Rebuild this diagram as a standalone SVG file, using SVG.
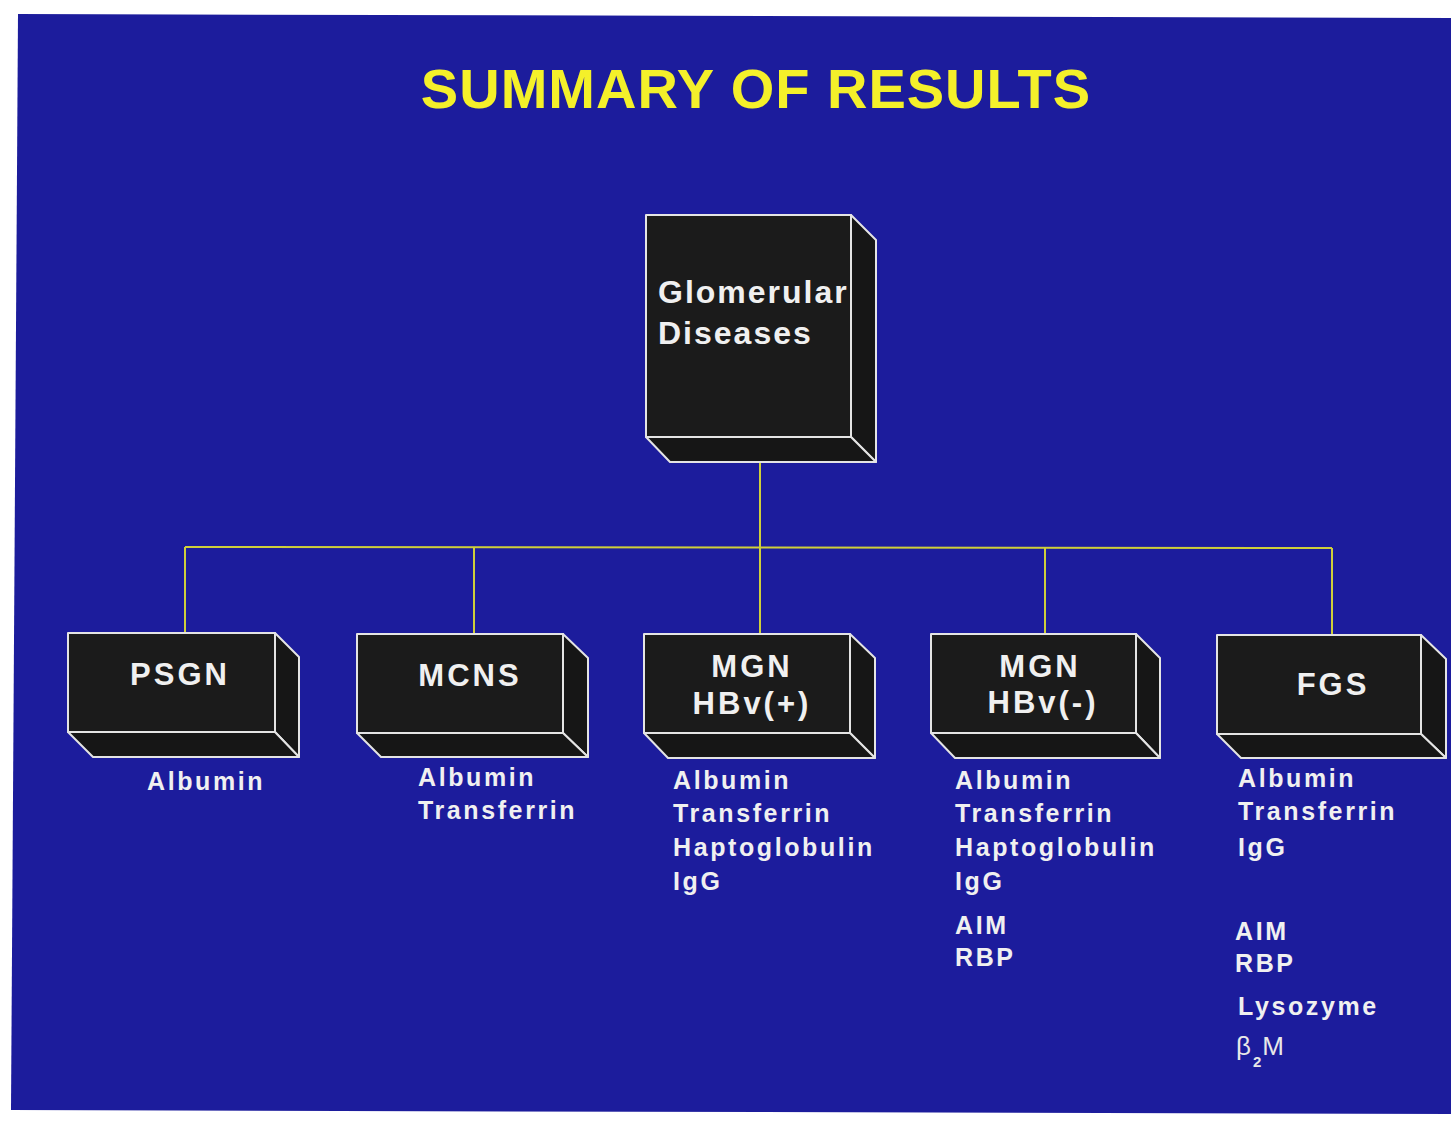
<svg xmlns="http://www.w3.org/2000/svg" width="1454" height="1123" viewBox="0 0 1454 1123">
<style>
.bg{fill:#1c1c9c}
.face{fill:#1b1b1b;stroke:#e4e4e4;stroke-width:2;stroke-linejoin:round}
.side{fill:#161616;stroke:#e4e4e4;stroke-width:2;stroke-linejoin:round}
.conn{stroke:#cfcf3a;stroke-width:2;fill:none}
.title{font-family:"Liberation Sans",Arial,sans-serif;font-weight:bold;font-size:56px;fill:#f4f02a;letter-spacing:1px}
.bt{font-family:"Liberation Sans",Arial,sans-serif;font-weight:bold;font-size:31px;fill:#f0f0f0;letter-spacing:3px;text-anchor:middle}
.big{font-family:"Liberation Sans",Arial,sans-serif;font-weight:bold;font-size:32px;fill:#f0f0f0;letter-spacing:2px}
.lb{font-family:"Liberation Sans",Arial,sans-serif;font-weight:bold;font-size:25px;fill:#f0f0f0;letter-spacing:2.6px}
.lt{font-family:"Liberation Sans",Arial,sans-serif;font-size:26px;fill:#e8e8e8}
</style>
<rect width="1454" height="1123" fill="#ffffff"/>
<polygon class="bg" points="18,14 1451,18 1451,1114 11,1110"/>
<text class="title" x="756" y="108" text-anchor="middle">SUMMARY OF RESULTS</text>

<g id="connectors">
<line class="conn" x1="760" y1="462" x2="760" y2="634"/>
<line class="conn" x1="185" y1="547" x2="1332" y2="548"/>
<line class="conn" x1="185" y1="547" x2="185" y2="633"/>
<line class="conn" x1="474" y1="547" x2="474" y2="634"/>
<line class="conn" x1="1045" y1="548" x2="1045" y2="634"/>
<line class="conn" x1="1332" y1="548" x2="1332" y2="635"/>
</g>

<g id="glomerular">
<polygon class="side" points="851,215 876,240 876,462 851,437"/>
<polygon class="side" points="646,437 670,462 876,462 851,437"/>
<rect class="face" x="646" y="215" width="205" height="222"/>
<text class="big" x="658" y="303">Glomerular</text>
<text class="big" x="658" y="344">Diseases</text>
</g>

<g id="psgn">
<polygon class="side" points="275,633 299,657 299,757 275,732"/>
<polygon class="side" points="68,732 93,757 299,757 275,732"/>
<rect class="face" x="68" y="633" width="207" height="99"/>
<text class="bt" x="180" y="685">PSGN</text>
<text class="lb" x="147" y="790">Albumin</text>
</g>

<g id="mcns">
<polygon class="side" points="563,634 588,658 588,757 563,733"/>
<polygon class="side" points="357,733 381,757 588,757 563,733"/>
<rect class="face" x="357" y="634" width="206" height="99"/>
<text class="bt" x="470" y="686">MCNS</text>
<text class="lb" x="418" y="786">Albumin</text>
<text class="lb" x="418" y="819">Transferrin</text>
</g>

<g id="mgn-pos">
<polygon class="side" points="850,634 875,658 875,758 850,733"/>
<polygon class="side" points="644,733 668,758 875,758 850,733"/>
<rect class="face" x="644" y="634" width="206" height="99"/>
<text class="bt" x="752" y="677">MGN</text>
<text class="bt" x="752" y="714">HBv(+)</text>
<text class="lb" x="673" y="789">Albumin</text>
<text class="lb" x="673" y="822">Transferrin</text>
<text class="lb" x="673" y="856">Haptoglobulin</text>
<text class="lb" x="673" y="890">IgG</text>
</g>

<g id="mgn-neg">
<polygon class="side" points="1136,634 1160,658 1160,758 1136,733"/>
<polygon class="side" points="931,733 955,758 1160,758 1136,733"/>
<rect class="face" x="931" y="634" width="205" height="99"/>
<text class="bt" x="1040" y="677">MGN</text>
<text class="bt" x="1043" y="713">HBv(-)</text>
<text class="lb" x="955" y="789">Albumin</text>
<text class="lb" x="955" y="822">Transferrin</text>
<text class="lb" x="955" y="856">Haptoglobulin</text>
<text class="lb" x="955" y="890">IgG</text>
<text class="lb" x="955" y="934">AIM</text>
<text class="lb" x="955" y="966">RBP</text>
</g>

<g id="fgs">
<polygon class="side" points="1421,635 1446,659 1446,758 1421,734"/>
<polygon class="side" points="1217,734 1241,758 1446,758 1421,734"/>
<rect class="face" x="1217" y="635" width="204" height="99"/>
<text class="bt" x="1333" y="695">FGS</text>
<text class="lb" x="1238" y="787">Albumin</text>
<text class="lb" x="1238" y="820">Transferrin</text>
<text class="lb" x="1238" y="856">IgG</text>
<text class="lb" x="1235" y="940">AIM</text>
<text class="lb" x="1235" y="972">RBP</text>
<text class="lb" x="1238" y="1015">Lysozyme</text>
<text class="lt" x="1236" y="1055">β<tspan font-size="15" font-weight="bold" dx="2" dy="12">2</tspan><tspan dx="1" dy="-12">M</tspan></text>
</g>
</svg>
